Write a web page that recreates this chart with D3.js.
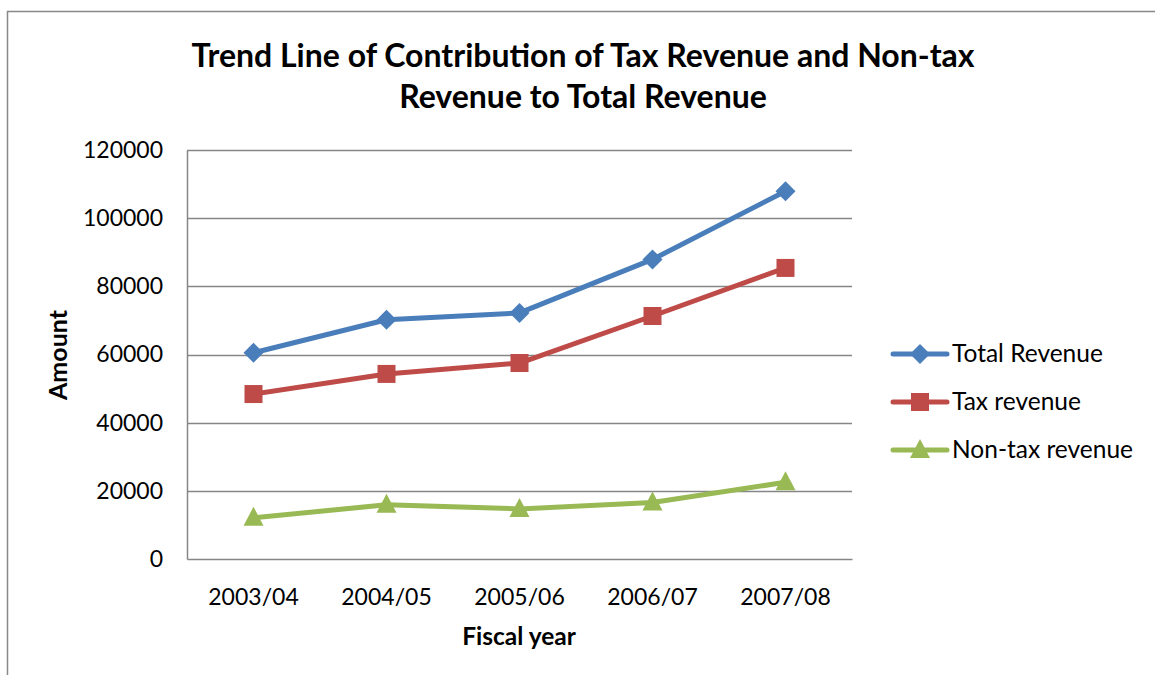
<!DOCTYPE html>
<html><head><meta charset="utf-8">
<script src="https://cdn.jsdelivr.net/npm/d3@7"></script>
<style>body{margin:0;background:#fff;} svg{display:block;font-family:Lato,"Open Sans",sans-serif;}</style>
</head><body>
<svg id="c" width="1155" height="675"></svg>
<script>
const categories = ["2003/04","2004/05","2005/06","2006/07","2007/08"];
const totalRevenue = [60500, 70200, 72200, 87900, 107900];
const taxRevenue = [48400, 54300, 57500, 71300, 85400];
const nonTaxRevenue = [12100, 15900, 14700, 16600, 22500];
const yTicks = [0,20000,40000,60000,80000,100000,120000];
const seriesNames = ["Total Revenue","Tax revenue","Non-tax revenue"];
const seriesColors = ["#4a7ebb","#be4b48","#98b954"];
const seriesShapes = ["diamond","square","triangle"];
const seriesValues = [totalRevenue, taxRevenue, nonTaxRevenue];

const svg = d3.select("#c");
svg.append("path").attr("d","M7.5,675 V11.5 H1155").attr("fill","none").attr("stroke","#888").attr("stroke-width",1.5);

const L=187, R=852, T=150, B=559;
const x = d3.scaleBand().domain(categories).range([L,R]);
const y = d3.scaleLinear().domain([0,120000]).range([B,T]);

svg.append("g").selectAll("line").data(yTicks.filter(d=>d>0)).join("line")
  .attr("x1",L).attr("x2",R).attr("y1",d=>Math.round(y(d))+0.5).attr("y2",d=>Math.round(y(d))+0.5)
  .attr("stroke","#868686").attr("stroke-width",1.5);

const yAxis = d3.axisLeft(y).tickValues(yTicks).tickFormat(d3.format("d")).tickSize(0).tickPadding(24);
const gy = svg.append("g").attr("transform",`translate(${L},0)`).call(yAxis);
gy.select(".domain").attr("stroke","#868686").attr("stroke-width",1.5);
gy.selectAll("text").attr("font-size",23).attr("fill","#000").attr("font-family","Lato");

const xAxis = d3.axisBottom(x).tickSize(0).tickPadding(30);
const gx = svg.append("g").attr("transform",`translate(0,${B})`).call(xAxis);
gx.select(".domain").attr("stroke","#868686").attr("stroke-width",1.5);
gx.selectAll("text").attr("font-size",23).attr("fill","#000").attr("font-family","Lato");

const cx = d => x(d) + x.bandwidth()/2;
const line = d3.line().x((d,i)=>cx(categories[i])).y(d=>y(d));

function marker(g, shape, color, px, py){
  if(shape==="diamond"){
    g.append("path").attr("d",`M${px},${py-10}L${px+10},${py}L${px},${py+10}L${px-10},${py}Z`).attr("fill",color);
  } else if(shape==="square"){
    g.append("rect").attr("x",px-9).attr("y",py-9).attr("width",18).attr("height",18).attr("fill",color);
  } else {
    g.append("path").attr("d",`M${px},${py-11}L${px+10},${py+8}L${px-10},${py+8}Z`).attr("fill",color);
  }
}

seriesValues.forEach((vals,si)=>{
  const g = svg.append("g");
  g.append("path").datum(vals).attr("d",line).attr("fill","none")
   .attr("stroke",seriesColors[si]).attr("stroke-width",5).attr("stroke-linejoin","round");
  vals.forEach((v,i)=>marker(g, seriesShapes[si], seriesColors[si], cx(categories[i]), y(v)));
});

const title = svg.append("text").attr("text-anchor","middle").attr("font-weight","bold")
  .attr("font-size",32).attr("font-family","Lato").attr("fill","#000");
title.append("tspan").attr("x",583).attr("y",67).text("Trend Line of Contribution of Tax Revenue and Non-tax");
title.append("tspan").attr("x",583).attr("y",108).text("Revenue to Total Revenue");

svg.append("text").attr("x",519).attr("y",645).attr("text-anchor","middle").attr("font-weight","bold")
  .attr("font-size",24.5).attr("font-family","Lato").text("Fiscal year");
svg.append("text").attr("transform","translate(67,355) rotate(-90)").attr("text-anchor","middle").attr("font-weight","bold")
  .attr("font-size",25).attr("font-family","Lato").text("Amount");

const legY = [354,402,450];
seriesNames.forEach((n,i)=>{
  const g = svg.append("g");
  g.append("line").attr("x1",893).attr("x2",947).attr("y1",legY[i]).attr("y2",legY[i])
   .attr("stroke",seriesColors[i]).attr("stroke-width",5).attr("stroke-linecap","round");
  marker(g, seriesShapes[i], seriesColors[i], 920, legY[i]);
  g.append("text").attr("x",952).attr("y",legY[i]+8).attr("font-size",24.5).attr("font-family","Lato").text(n);
});
</script>
</body></html>
